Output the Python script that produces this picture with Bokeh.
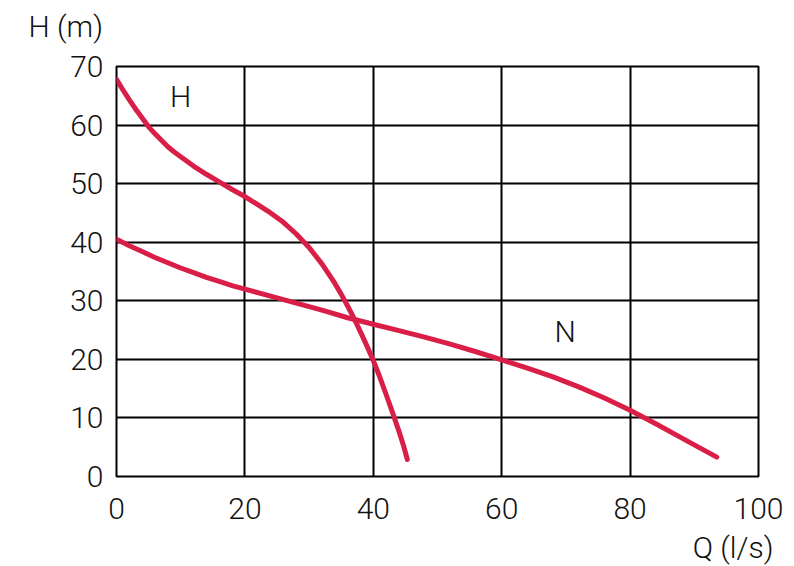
from bokeh.plotting import figure
from bokeh.models import Range1d, Label, FixedTicker, Title
from bokeh.embed import file_html
from bokeh.resources import INLINE

# Data (pump curves)
q_head = [0, 1, 2, 3, 4, 5, 6, 7, 8, 9, 10, 12, 14, 16, 18, 20, 22, 24, 26, 28, 30,
          32, 34, 35, 36, 37, 38, 39, 40, 41, 42, 43, 44, 44.7, 45.3]
h_head = [67.8, 66.0, 64.3, 62.7, 61.2, 59.7, 58.5, 57.4, 56.3, 55.4, 54.6, 53.0, 51.6,
          50.3, 49.0, 47.8, 46.4, 45.0, 43.4, 41.4, 39.1, 36.3, 33.0, 31.1, 29.1, 27.0,
          24.7, 22.3, 19.8, 17.0, 14.0, 10.9, 7.7, 5.3, 2.9]

q_power = [0, 2, 4, 6, 8, 10, 12, 14, 16, 18, 20, 24, 28, 32, 36, 40, 44, 48, 52, 56,
           60, 64, 68, 72, 76, 80, 84, 88, 91, 93.5]
n_power = [40.5, 39.4, 38.4, 37.4, 36.5, 35.6, 34.8, 34.0, 33.3, 32.6, 32.0, 30.8, 29.6,
           28.4, 27.1, 26.0, 24.9, 23.8, 22.6, 21.3, 19.9, 18.5, 17.0, 15.3, 13.4, 11.3,
           9.0, 6.6, 4.8, 3.3]

x_ticks = [0, 20, 40, 60, 80, 100]
y_ticks = [0, 10, 20, 30, 40, 50, 60, 70]

FONT = "Roboto Light"
TEXT_COLOR = "#111111"
CURVE_COLOR = "#D91F48"
FS = "30px"

p = figure(width=794, height=566, output_backend="svg", toolbar_location=None, title=None,
           x_range=Range1d(0, 100), y_range=Range1d(0, 70),
           min_border_left=116, min_border_right=36, min_border_top=66, min_border_bottom=90)

p.background_fill_color = "white"
p.border_fill_color = "white"
p.outline_line_color = "black"
p.outline_line_width = 2

p.xaxis.ticker = FixedTicker(ticks=x_ticks)
p.yaxis.ticker = FixedTicker(ticks=y_ticks)
for ax in (p.xaxis, p.yaxis):
    ax.axis_line_color = None
    ax.major_tick_line_color = None
    ax.minor_tick_line_color = None
    ax.major_tick_in = 0
    ax.major_tick_out = 0
    ax.major_label_text_font = FONT
    ax.major_label_text_font_size = FS
    ax.major_label_text_color = TEXT_COLOR
p.xaxis.major_label_standoff = 21
p.yaxis.major_label_standoff = 13

p.xgrid.ticker = FixedTicker(ticks=x_ticks)
p.ygrid.ticker = FixedTicker(ticks=y_ticks)
for g in (p.xgrid, p.ygrid):
    g.grid_line_color = "black"
    g.grid_line_width = 2
    g.grid_line_alpha = 1.0

p.line(q_head, h_head, line_color=CURVE_COLOR, line_width=5, line_cap="round", line_join="round")
p.line(q_power, n_power, line_color=CURVE_COLOR, line_width=5, line_cap="round", line_join="round")

def add_label(x, y, text):
    p.add_layout(Label(x=x, y=y, text=text, text_align="center", text_baseline="alphabetic",
                       text_font=FONT, text_font_size=FS, text_color=TEXT_COLOR))

add_label(10.0, 64.8, "H")
add_label(69.9, 24.7, "N")

# axis titles as side-panel titles
spacer_top = Title(text=" ", text_font_size="19px", standoff=0)
h_title = Title(text="H (m)", align="left", offset=-88, vertical_align="bottom", standoff=0,
                text_font=FONT, text_font_size=FS, text_color=TEXT_COLOR, text_font_style="normal")
p.add_layout(spacer_top, "above")
p.add_layout(h_title, "above")

spacer_bottom = Title(text=" ", text_font_size="5px", standoff=0)
q_title = Title(text="Q (l/s)", align="right", offset=-15, vertical_align="top", standoff=0,
                text_font=FONT, text_font_size=FS, text_color=TEXT_COLOR, text_font_style="normal")
p.add_layout(spacer_bottom, "below")
p.add_layout(q_title, "below")

open("out.html", "w").write(file_html(p, INLINE))
